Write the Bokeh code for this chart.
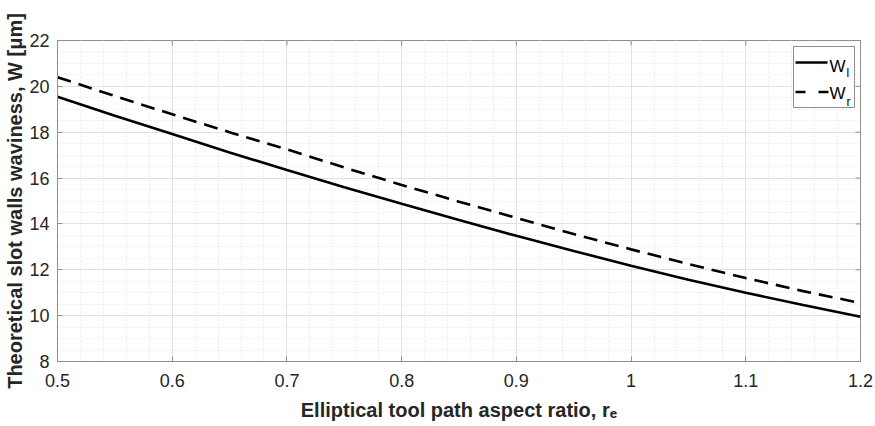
import numpy as np
from bokeh.plotting import figure
from bokeh.models import Range1d, FixedTicker, Label
from bokeh.embed import file_html
from bokeh.resources import INLINE

# Aspect ratio of the elliptical tool path
r_e = [0.50, 0.55, 0.60, 0.65, 0.70, 0.75, 0.80, 0.85, 0.90, 0.95, 1.00, 1.05, 1.10, 1.15, 1.20]
# Theoretical waviness of the left and right slot walls [um]
w_l = [19.55, 18.72, 17.92, 17.12, 16.35, 15.60, 14.88, 14.17, 13.48, 12.82, 12.18, 11.57, 11.00, 10.46, 9.95]
w_r = [20.40, 19.58, 18.78, 18.00, 17.25, 16.46, 15.70, 14.97, 14.26, 13.56, 12.89, 12.25, 11.64, 11.07, 10.55]

x_ticks = [0.5, 0.6, 0.7, 0.8, 0.9, 1.0, 1.1, 1.2]
x_tick_labels = ["0.5", "0.6", "0.7", "0.8", "0.9", "1", "1.1", "1.2"]
y_ticks = [8, 10, 12, 14, 16, 18, 20, 22]

FONT = "Liberation Sans"
TICK_COLOR = "#262626"
FRAME_COLOR = "#8f8f8f"

W, H = 875, 426
LEFT, RIGHT, TOP, BOTTOM = 57, 860, 40, 361
X0, X1, Y0, Y1 = 0.5, 1.2, 8.0, 22.0
TICK_LEN = 5


def fx(px):
    """Canvas pixel column -> x data value."""
    return X0 + (px - LEFT) * (X1 - X0) / (RIGHT - LEFT)


def fy(py):
    """Canvas pixel row -> y data value."""
    return Y1 - (py - TOP) * (Y1 - Y0) / (BOTTOM - TOP)


p = figure(width=W, height=H, output_backend="svg", toolbar_location=None,
           x_range=Range1d(X0, X1), y_range=Range1d(Y0, Y1),
           min_border_left=LEFT, min_border_right=W - RIGHT,
           min_border_top=TOP, min_border_bottom=H - BOTTOM)
p.background_fill_color = "white"
p.border_fill_color = "white"
p.outline_line_color = FRAME_COLOR
p.outline_line_width = 1

x_minor = [round(v, 2) for v in np.arange(X0, X1 + 1e-9, 0.02)]
y_minor = [round(v, 2) for v in np.arange(Y0, Y1 + 1e-9, 0.5)]
p.xaxis.ticker = FixedTicker(ticks=x_ticks, minor_ticks=x_minor)
p.yaxis.ticker = FixedTicker(ticks=y_ticks, minor_ticks=y_minor)
p.xaxis.major_label_overrides = {float(t): s for t, s in zip(x_ticks, x_tick_labels)}

for ax in (p.xaxis[0], p.yaxis[0]):
    ax.axis_line_color = FRAME_COLOR
    ax.major_tick_line_color = FRAME_COLOR
    ax.major_tick_in = TICK_LEN
    ax.major_tick_out = 0
    ax.minor_tick_line_color = None
    ax.major_label_text_font = FONT
    ax.major_label_text_font_size = "18px"
    ax.major_label_text_color = TICK_COLOR

p.xaxis.major_label_standoff = 8
p.yaxis.major_label_standoff = 4

p.yaxis.axis_label = "Theoretical slot walls waviness, W [\u03bcm]"
p.xaxis.axis_label = "Elliptical tool path aspect ratio, r\u2091"
for ax in (p.xaxis[0], p.yaxis[0]):
    ax.axis_label_text_font = FONT
    ax.axis_label_text_font_size = "20px"
    ax.axis_label_text_font_style = "bold"
    ax.axis_label_text_color = TICK_COLOR
p.yaxis.axis_label_standoff = 0
p.xaxis.axis_label_standoff = 9

p.xgrid.grid_line_color = "#e2e2e2"
p.ygrid.grid_line_color = "#e2e2e2"
p.xgrid.minor_grid_line_color = "#ececec"
p.ygrid.minor_grid_line_color = "#ececec"
p.xgrid.minor_grid_line_dash = "2 2"
p.ygrid.minor_grid_line_dash = "2 2"

# Mirrored tick marks along the top and right edges of the box
dy = TICK_LEN * (Y1 - Y0) / (BOTTOM - TOP)
dx = TICK_LEN * (X1 - X0) / (RIGHT - LEFT)
p.segment(x0=x_ticks, x1=x_ticks, y0=[Y1] * len(x_ticks), y1=[Y1 - dy] * len(x_ticks),
          line_color=FRAME_COLOR, line_width=1)
p.segment(x0=[X1] * len(y_ticks), x1=[X1 - dx] * len(y_ticks), y0=y_ticks, y1=y_ticks,
          line_color=FRAME_COLOR, line_width=1)

p.line(r_e, w_l, line_color="black", line_width=2.6)
p.line(r_e, w_r, line_color="black", line_width=2.6, line_dash="14 8")

# Legend box with subscripted entries
p.quad(left=fx(793), right=fx(854), top=fy(46), bottom=fy(107),
       fill_color="white", line_color=FRAME_COLOR, line_width=1)
p.line([fx(795), fx(827)], [fy(62), fy(62)], line_color="black", line_width=2.6)
p.line([fx(795), fx(828)], [fy(91.5), fy(91.5)], line_color="black", line_width=2.6,
       line_dash="10 13")


def add_text(px, py, text, size):
    p.add_layout(Label(x=fx(px), y=fy(py), text=text, text_font=FONT,
                       text_font_size=size, text_color="black",
                       text_align="left", text_baseline="alphabetic"))


add_text(829, 66, "W", "17px")
add_text(846, 72, "l", "12px")
add_text(829, 93.3, "W", "17px")
add_text(846, 101.7, "r", "12px")

open("out.html", "w").write(file_html(p, INLINE))
